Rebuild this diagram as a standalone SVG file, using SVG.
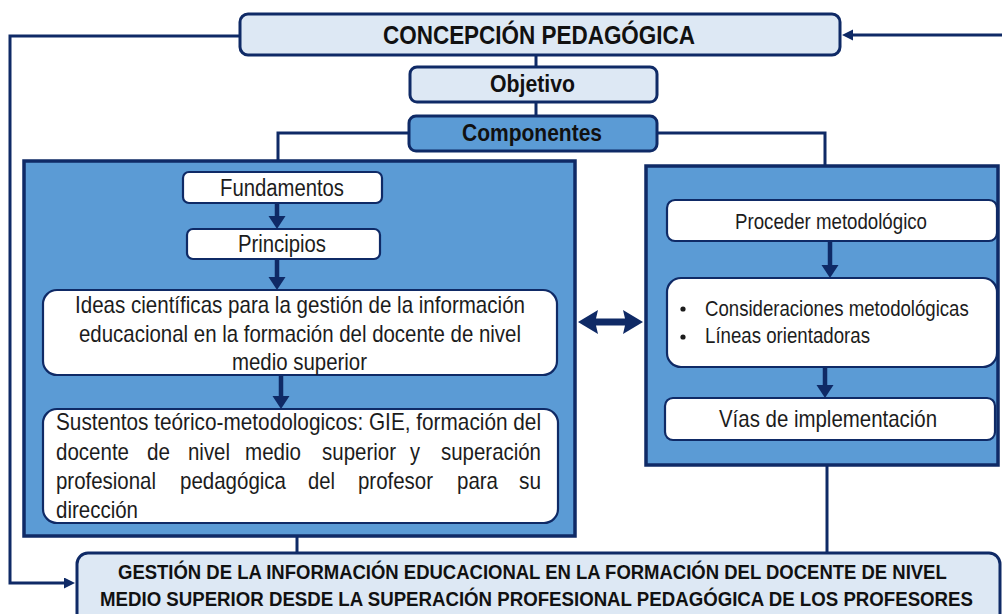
<svg xmlns="http://www.w3.org/2000/svg" width="1002" height="614" viewBox="0 0 1002 614">
<style>
.lite{fill:#dde8f4;stroke:#0f2a66;stroke-width:3}
.mid{fill:#5b9bd5;stroke:#0f2a66;stroke-width:3}
.panel{fill:#5b9bd5;stroke:#0f2a66;stroke-width:3.5}
.wbox{fill:#ffffff;stroke:#0f2a66;stroke-width:2.2}
.con{fill:none;stroke:#0f2a66;stroke-width:3}
.thick{fill:none;stroke:#0f2a66;stroke-width:4.5}
text{font-family:"Liberation Sans Narrow","Liberation Sans",Arial,sans-serif;fill:#1c1c1c}
.b{font-weight:bold;fill:#111}
.t25{font-size:25px}
.t23{font-size:23px}
.t24{font-size:24px}
.t22{font-size:22px}
.t20{font-size:20px}
</style>
<defs>
<marker id="ah" markerWidth="12" markerHeight="12" refX="0" refY="5.5" orient="auto" markerUnits="userSpaceOnUse"><path d="M0,0 L11,5.5 L0,11 Z" fill="#0f2a66"/></marker>
<marker id="ahb" markerWidth="18" markerHeight="18" refX="0" refY="8.5" orient="auto" markerUnits="userSpaceOnUse"><path d="M0,0 L13,8.5 L0,17 Z" fill="#0f2a66"/></marker>
</defs>

<g id="connectors">
<polyline class="con" points="240,36 10,36 10,583 64,583" marker-end="url(#ah)"/>
<polyline class="con" points="1002,35 853,35" marker-end="url(#ah)"/>
<line class="con" x1="536" y1="55" x2="536" y2="67"/>
<line class="con" x1="536" y1="102" x2="536" y2="116"/>
<polyline class="con" points="409,133 278,133 278,162"/>
<polyline class="con" points="657,133 825,133 825,166"/>
<line class="con" x1="297" y1="536" x2="297" y2="553"/>
<line class="con" x1="827" y1="465" x2="827" y2="553"/>
</g>

<g id="concepcion">
<rect class="lite" x="240" y="14" width="600" height="41" rx="8"/>
<text class="b t25" x="383" y="44" textLength="312" lengthAdjust="spacingAndGlyphs">CONCEPCIÓN PEDAGÓGICA</text>
</g>
<g id="objetivo">
<rect class="lite" x="410" y="67" width="247" height="35" rx="7"/>
<text class="b t23" x="490" y="92" textLength="85" lengthAdjust="spacingAndGlyphs">Objetivo</text>
</g>
<g id="componentes">
<rect class="mid" x="409" y="116" width="248" height="35" rx="7"/>
<text class="b t23" x="462" y="141" textLength="140" lengthAdjust="spacingAndGlyphs">Componentes</text>
</g>

<g id="left-panel">
<rect class="panel" x="24" y="161" width="551" height="375"/>
</g>
<g id="right-panel">
<rect class="panel" x="646" y="166" width="352" height="299"/>
</g>

<g id="fundamentos">
<rect class="wbox" x="183" y="172" width="199" height="31" rx="6"/>
<text class="t23" x="220" y="196" textLength="124" lengthAdjust="spacingAndGlyphs">Fundamentos</text>
</g>
<g id="principios">
<rect class="wbox" x="187" y="229" width="193" height="30" rx="6"/>
<text class="t23" x="238" y="252" textLength="88" lengthAdjust="spacingAndGlyphs">Principios</text>
</g>
<g id="ideas">
<rect class="wbox" x="43" y="290" width="514" height="85" rx="14"/>
<text class="t24" x="75" y="313" textLength="450" lengthAdjust="spacingAndGlyphs">Ideas científicas para la gestión de la información</text>
<text class="t24" x="79" y="342" textLength="442" lengthAdjust="spacingAndGlyphs">educacional en la formación del docente de nivel</text>
<text class="t24" x="232" y="370" textLength="135" lengthAdjust="spacingAndGlyphs">medio superior</text>
</g>
<g id="sustentos">
<rect class="wbox" x="43" y="409" width="515" height="114" rx="14"/>
<text class="t24" x="56" y="430" textLength="485" lengthAdjust="spacingAndGlyphs">Sustentos teórico-metodologicos: GIE, formación del</text>
<text class="t24" x="56" y="460" textLength="73" lengthAdjust="spacingAndGlyphs">docente</text>
<text class="t24" x="147" y="460" textLength="23" lengthAdjust="spacingAndGlyphs">de</text>
<text class="t24" x="188" y="460" textLength="42" lengthAdjust="spacingAndGlyphs">nivel</text>
<text class="t24" x="245" y="460" textLength="56" lengthAdjust="spacingAndGlyphs">medio</text>
<text class="t24" x="322" y="460" textLength="74" lengthAdjust="spacingAndGlyphs">superior</text>
<text class="t24" x="410" y="460" textLength="10" lengthAdjust="spacingAndGlyphs">y</text>
<text class="t24" x="441" y="460" textLength="100" lengthAdjust="spacingAndGlyphs">superación</text>
<text class="t24" x="56" y="489" textLength="100" lengthAdjust="spacingAndGlyphs">profesional</text>
<text class="t24" x="180" y="489" textLength="106" lengthAdjust="spacingAndGlyphs">pedagógica</text>
<text class="t24" x="308" y="489" textLength="27" lengthAdjust="spacingAndGlyphs">del</text>
<text class="t24" x="358" y="489" textLength="75" lengthAdjust="spacingAndGlyphs">profesor</text>
<text class="t24" x="457" y="489" textLength="41" lengthAdjust="spacingAndGlyphs">para</text>
<text class="t24" x="519" y="489" textLength="22" lengthAdjust="spacingAndGlyphs">su</text>
<text class="t24" x="56" y="518" textLength="82" lengthAdjust="spacingAndGlyphs">dirección</text>
</g>

<g id="proceder">
<rect class="wbox" x="667" y="200" width="330" height="41" rx="8"/>
<text class="t22" x="735" y="229" textLength="192" lengthAdjust="spacingAndGlyphs">Proceder metodológico</text>
</g>
<g id="consideraciones">
<rect class="wbox" x="667" y="278" width="330" height="89" rx="14"/>
<circle cx="683" cy="309" r="2.6" fill="#1c1c1c"/>
<circle cx="683" cy="337" r="2.6" fill="#1c1c1c"/>
<g transform="translate(705,316) scale(0.84,1)">
<text class="t22" x="0" y="0" textLength="314" lengthAdjust="spacingAndGlyphs">Consideraciones metodológicas</text>
</g>
<text class="t22" x="705" y="343" textLength="165" lengthAdjust="spacingAndGlyphs">Líneas orientadoras</text>
</g>
<g id="vias">
<rect class="wbox" x="665" y="398" width="330" height="42" rx="8"/>
<text class="t24" x="719" y="427" textLength="218" lengthAdjust="spacingAndGlyphs">Vías de implementación</text>
</g>

<g id="gestion">
<rect class="lite" x="77" y="553" width="923" height="80" rx="11"/>
<g transform="translate(118,579) scale(0.85,1)">
<text class="b t20" x="0" y="0" textLength="975" lengthAdjust="spacingAndGlyphs">GESTIÓN DE LA INFORMACIÓN EDUCACIONAL EN LA FORMACIÓN DEL DOCENTE DE NIVEL</text>
</g>
<g transform="translate(100,606) scale(0.85,1)">
<text class="b t20" x="0" y="0" textLength="1027" lengthAdjust="spacingAndGlyphs">MEDIO SUPERIOR DESDE LA SUPERACIÓN PROFESIONAL PEDAGÓGICA DE LOS PROFESORES</text>
</g>
</g>

<g id="inner-arrows">
<line class="thick" x1="277" y1="203" x2="277" y2="216" marker-end="url(#ahb)"/>
<line class="thick" x1="277" y1="259" x2="277" y2="277" marker-end="url(#ahb)"/>
<line class="thick" x1="281" y1="375" x2="281" y2="396" marker-end="url(#ahb)"/>
<line class="thick" x1="830" y1="241" x2="830" y2="265" marker-end="url(#ahb)"/>
<line class="thick" x1="825" y1="367" x2="825" y2="385" marker-end="url(#ahb)"/>
<polygon points="578,322 598,310 596,318.5 625,318.5 623,310 643,322 623,334 625,325.5 596,325.5 598,334" fill="#0f2a66"/>
</g>
</svg>
